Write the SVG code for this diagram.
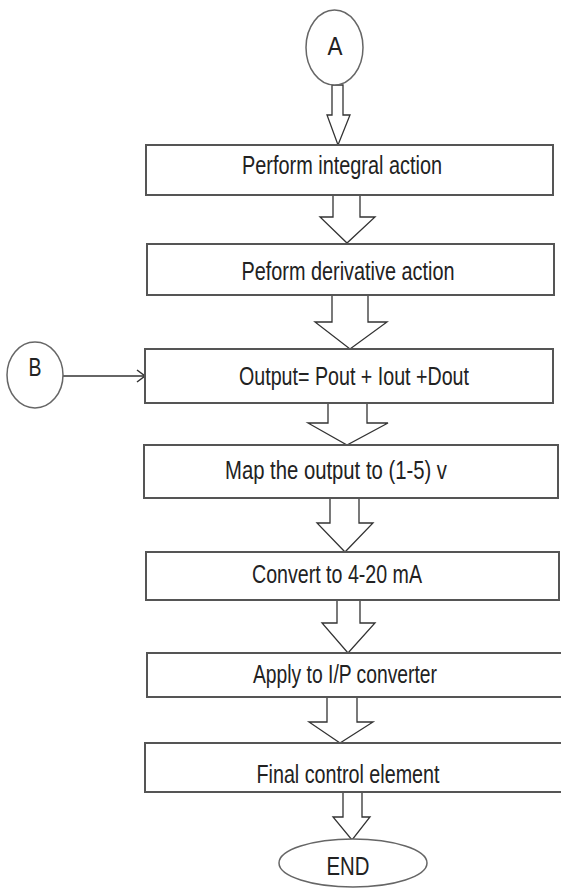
<svg xmlns="http://www.w3.org/2000/svg" width="561" height="890" viewBox="0 0 561 890">
<style>
.box{fill:#fff;stroke:#555;stroke-width:2}
.oval{fill:#fff;stroke:#666;stroke-width:1.5}
.blk{fill:#fff;stroke:#333;stroke-width:1.3;stroke-linejoin:miter}
.ln{fill:none;stroke:#333;stroke-width:1.5}
.t{font-family:"Liberation Sans",Arial,sans-serif;font-size:25px;fill:#222;text-anchor:middle}
</style>
<rect width="561" height="890" fill="#fff"/>
<g id="connectors">
<polygon class="blk" points="332,85 332,115 327,115 338,145 350,115 343,115 343,85"/>
<polygon class="blk" points="333,195 333,217 320,217 347,243 375,217 360,217 360,195"/>
<polygon class="blk" points="332,295 332,322 315,322 350,349 387,322 368,322 368,295"/>
<polygon class="blk" points="328,403 328,423 308,423 347,445 388,423 367,423 367,403"/>
<polygon class="blk" points="330,498 330,523 317,523 345,552 373,523 359,523 359,498"/>
<polygon class="blk" points="337,600 337,623 322,623 348,653 375,623 360,623 360,600"/>
<polygon class="blk" points="327,697 327,722 309,722 340,743 373,722 357,722 357,697"/>
<polygon class="blk" points="343,792 343,817 333,817 352,840 370,817 362,817 362,792"/>
<line class="ln" x1="63" y1="376" x2="145" y2="376"/>
<polyline class="ln" points="137,370 145,376 137,382"/>
</g>
<g id="nodeA"><ellipse class="oval" cx="334.5" cy="47.5" rx="28.5" ry="37.5"/><text class="t" x="335" y="55" textLength="15" lengthAdjust="spacingAndGlyphs">A</text></g>
<g id="node1"><rect class="box" x="146" y="145" width="407" height="50"/><text class="t" x="342" y="174" textLength="200" lengthAdjust="spacingAndGlyphs">Perform integral action</text></g>
<g id="node2"><rect class="box" x="147" y="244" width="407" height="51"/><text class="t" x="348" y="280" textLength="213" lengthAdjust="spacingAndGlyphs">Peform derivative action</text></g>
<g id="nodeB"><ellipse class="oval" cx="35" cy="375" rx="28" ry="33"/><text class="t" x="35" y="376" textLength="13" lengthAdjust="spacingAndGlyphs">B</text></g>
<g id="node3"><rect class="box" x="145" y="349" width="408" height="54"/><text class="t" x="354" y="385" textLength="230" lengthAdjust="spacingAndGlyphs">Output= Pout + Iout +Dout</text></g>
<g id="node4"><rect class="box" x="144" y="445" width="414" height="53"/><text class="t" x="336" y="479" textLength="222" lengthAdjust="spacingAndGlyphs">Map the output to (1-5) v</text></g>
<g id="node5"><rect class="box" x="146" y="552" width="413" height="48"/><text class="t" x="337" y="583" textLength="170" lengthAdjust="spacingAndGlyphs">Convert to 4-20 mA</text></g>
<g id="node6"><rect class="box" x="147" y="653" width="420" height="44"/><text class="t" x="345" y="683" textLength="184" lengthAdjust="spacingAndGlyphs">Apply to I/P converter</text></g>
<g id="node7"><rect class="box" x="145" y="743" width="422" height="49"/><text class="t" x="348" y="783" textLength="183" lengthAdjust="spacingAndGlyphs">Final control element</text></g>
<g id="end"><ellipse class="oval" cx="353" cy="863" rx="74" ry="24"/><text class="t" x="348" y="875" textLength="43" lengthAdjust="spacingAndGlyphs">END</text></g>
</svg>
